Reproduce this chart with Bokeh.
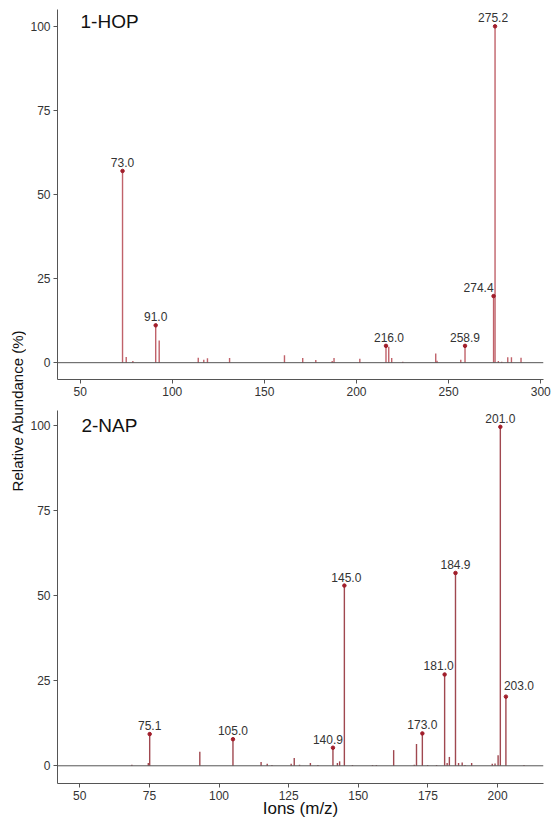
import math
from bokeh.plotting import figure
from bokeh.models import ColumnDataSource, FixedTicker, Span, Label, LabelSet
from bokeh.layouts import row, column
from bokeh.core.properties import value
from bokeh.embed import file_html
from bokeh.resources import INLINE

FONT = "Liberation Sans"

# ---------------- data ----------------
hop_mz = [73.0, 75.0, 78.6, 91.0, 92.9, 114.1, 117.1, 119.1, 131.1, 160.9,
          170.8, 177.9, 186.8, 187.8, 201.8, 216.0, 217.5, 219.1, 225.1, 243.0,
          243.7, 256.6, 258.9, 274.4, 275.2, 277.0, 278.8, 282.1, 284.1, 289.3]
hop_ab = [57.0, 1.7, 0.5, 11.1, 6.6, 1.5, 0.9, 1.3, 1.4, 2.2,
          1.4, 0.8, 0.5, 1.4, 1.2, 5.0, 4.7, 1.4, 0.3, 2.7,
          0.6, 0.9, 5.0, 19.8, 100.0, 0.5, 0.3, 1.6, 1.6, 1.5]
hop_labelled = [73.0, 91.0, 216.0, 258.9, 274.4, 275.2]

nap_mz = [68.7, 74.6, 75.1, 93.1, 105.0, 115.1, 117.3, 119.0, 125.9, 127.0,
          128.9, 132.8, 135.5, 140.9, 142.5, 143.3, 145.0, 147.9, 155.1, 156.5,
          162.7, 170.1, 170.9, 173.0, 174.9, 178.1, 181.0, 181.9, 182.7, 184.9,
          186.0, 187.3, 188.3, 190.7, 198.1, 199.1, 200.2, 201.0, 203.0, 209.5]
nap_ab = [0.3, 0.8, 9.3, 4.1, 7.8, 1.1, 0.6, 0.2, 0.6, 2.3,
          0.3, 0.8, 0.2, 5.3, 0.8, 1.3, 52.9, 0.2, 0.2, 0.2,
          4.6, 0.3, 6.4, 9.5, 0.2, 0.2, 26.8, 0.8, 2.6, 56.6,
          0.8, 1.0, 0.2, 0.8, 0.6, 0.7, 3.1, 99.5, 20.3, 0.2]
nap_labelled = [75.1, 105.0, 140.9, 145.0, 173.0, 181.0, 184.9, 201.0, 203.0]

y_ticks = [0, 25, 50, 75, 100]
hop_x_ticks = [50, 100, 150, 200, 250, 300]
nap_x_ticks = [50, 75, 100, 125, 150, 175, 200]

# label nudges (pixels) so text does not collide with neighbouring stems
hop_label_dx = {274.4: -15, 216.0: 3, 275.2: -2}
nap_label_dx = {203.0: 13, 140.9: -5, 181.0: -6, 145.0: 2}
nap_label_dy = {203.0: 7}


def panel(mz, ab, labelled, dx, dy, x_range, y_range, x_ticks, title,
          title_xy, stem_color, width, height, mb_top, mb_bottom, x_standoff,
          xlabel=None):
    p = figure(width=width, height=height, x_range=x_range, y_range=y_range,
               output_backend="svg", toolbar_location=None,
               min_border_left=31, min_border_right=8,
               min_border_top=mb_top, min_border_bottom=mb_bottom)
    p.outline_line_color = None
    p.grid.visible = False
    p.background_fill_color = "white"
    p.border_fill_color = "white"

    for ax, ticks in ((p.xaxis, x_ticks), (p.yaxis, y_ticks)):
        ax.ticker = FixedTicker(ticks=ticks)
        ax.axis_line_color = "#555555"
        ax.axis_line_width = 1
        ax.major_tick_line_color = "#555555"
        ax.major_tick_out = 4
        ax.major_tick_in = 0
        ax.minor_tick_line_color = None
        ax.major_label_text_font = FONT
        ax.major_label_text_font_size = "12px"
        ax.major_label_text_color = "#333333"
        ax.major_label_standoff = 3
    p.xaxis.major_label_standoff = x_standoff
    if xlabel:
        p.xaxis.axis_label = xlabel
        p.xaxis.axis_label_text_font = FONT
        p.xaxis.axis_label_text_font_size = "17px"
        p.xaxis.axis_label_text_font_style = "normal"
        p.xaxis.axis_label_text_color = "#111111"
        p.xaxis.axis_label_standoff = -4

    p.add_layout(Span(location=0, dimension="width", line_color="#555555",
                      line_width=1))

    src = ColumnDataSource(dict(x=mz, y=ab, y0=[0] * len(mz)))
    p.segment(x0="x", y0="y0", x1="x", y1="y", source=src,
              line_color=stem_color, line_width=1.4)

    lx = [m for m in mz if m in labelled]
    ly = [a for m, a in zip(mz, ab) if m in labelled]
    lsrc = ColumnDataSource(dict(
        x=lx, y=ly, t=["%.1f" % m for m in lx],
        dx=[dx.get(m, 0) for m in lx],
        dy=[dy.get(m, 4) for m in lx]))
    p.scatter(x="x", y="y", source=lsrc, size=3.5, color="#a11d2a",
              marker="circle")
    p.add_layout(LabelSet(x="x", y="y", text="t", source=lsrc,
                          x_offset="dx", y_offset="dy",
                          text_align="center", text_baseline="bottom",
                          text_font=value(FONT), text_font_size="12px",
                          text_color="#333333"))

    p.add_layout(Label(x=title_xy[0], y=title_xy[1], text=title,
                       text_font=FONT, text_font_size="19px",
                       text_color="#111111", text_baseline="middle",
                       text_align="left"))
    return p


p1 = panel(hop_mz, hop_ab, hop_labelled, hop_label_dx, {},
           (37.7, 301.5), (-5, 105.0), hop_x_ticks, "1-HOP", (50.2, 101.3),
           "#c0626a", 525, 400, 9, 21, 3)
p2 = panel(nap_mz, nap_ab, nap_labelled, nap_label_dx, nap_label_dy,
           (42.0, 216.5), (-5.2, 104.3), nap_x_ticks, "2-NAP", (50.6, 100.0),
           "#a04850", 525, 420, 10, 37, 3, xlabel="Ions (m/z)")

ylab = figure(width=26, height=820, x_range=(0, 26), y_range=(0, 1),
              output_backend="svg", toolbar_location=None,
              min_border=0)
ylab.axis.visible = False
ylab.grid.visible = False
ylab.outline_line_color = None
ylab.text(x=[17], y=[0.5], text=["Relative Abundance (%)"],
          angle=math.pi / 2, text_align="center", text_baseline="middle",
          text_font=value(FONT), text_font_size="15px", text_color="#111111")

layout = row(ylab, column(p1, p2))

open("out.html", "w").write(file_html(layout, INLINE))
